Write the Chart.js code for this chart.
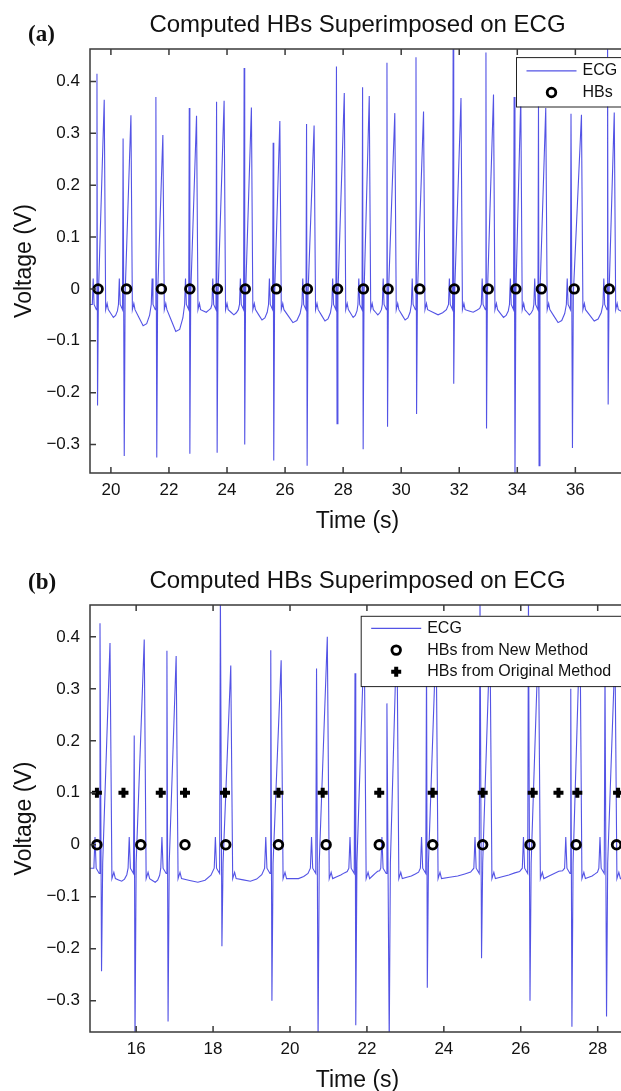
<!DOCTYPE html>
<html lang="en">

<head>
    <meta charset="UTF-8">
    <title>Computed HBs Superimposed on ECG</title>
    <script src="https://cdn.jsdelivr.net/npm/chart.js"></script>
    <style>
        html, body { margin: 0; padding: 0; background: #fff; }
        body { width: 621px; height: 1091px; overflow: hidden; position: relative; }
        .painel { position: absolute; left: 0; }
        .painel canvas { display: block; }
        .letra {
            position: absolute; left: 28px; line-height: 23px;
            font-family: "Liberation Serif", "Times New Roman", serif;
            font-weight: bold; font-size: 23px; color: #111;
        }
    </style>
</head>

<body>
    <div class="painel" style="top: 0px"><canvas id="graficoA" width="640" height="535"></canvas></div>
    <div class="painel" style="top: 556px"><canvas id="graficoB" width="640" height="538"></canvas></div>
    <span class="letra" style="top: 22px">(a)</span>
    <span class="letra" style="top: 570px">(b)</span>
</body>
<script>
    // ---------- painel (a) ----------
    const xMinA = 19.28, xMaxA = 37.71
    const yMinA = -0.355, yMaxA = 0.4625
    // HBs detectados (s)
    const hbA = [19.56, 20.54, 21.74, 22.72, 23.67, 24.63, 25.70, 26.77, 27.81, 28.70, 29.55, 30.64, 31.83, 33.00, 33.95, 34.83, 35.96, 37.17]
    // batimentos do ECG: primeiro pico, vale, segundo pico, vale entre batimentos
    const r1TempoA = [19.52, 20.42, 21.55, 22.70, 23.64, 24.59, 25.59, 26.74, 27.77, 28.67, 29.51, 30.51, 31.79, 32.92, 33.89, 34.73, 35.85, 37.11]
    const r1ValorA = [0.415, 0.29, 0.37, 0.349, 0.361, 0.426, 0.282, 0.318, 0.429, 0.389, 0.436, 0.447, 0.48, 0.456, 0.37, 0.361, 0.338, 0.48]
    const sTempoA = [19.54, 20.46, 21.58, 22.72, 23.66, 24.61, 25.61, 26.76, 27.79, 28.69, 29.53, 30.53, 31.81, 32.94, 33.92, 34.75, 35.90, 37.13]
    const sValorA = [-0.225, -0.322, -0.325, -0.318, -0.316, -0.30, -0.331, -0.341, -0.26, -0.309, -0.266, -0.241, -0.183, -0.269, -0.37, -0.341, -0.307, -0.223]
    const r2TempoA = [19.77, 20.69, 21.79, 22.95, 23.90, 24.84, 25.82, 27.00, 28.04, 28.90, 29.78, 30.77, 32.06, 33.18, 34.12, 34.98, 36.21, 37.34]
    const r2ValorA = [0.365, 0.335, 0.297, 0.334, 0.363, 0.35, 0.324, 0.315, 0.378, 0.372, 0.339, 0.342, 0.368, 0.375, 0.37, 0.349, 0.336, 0.34]
    const valeA = [-0.055, -0.071, -0.082, -0.045, -0.05, -0.06, -0.065, -0.062, -0.055, -0.05, -0.06, -0.05, -0.045, -0.055, -0.05, -0.065, -0.062, -0.05]
    const linhaBaseA = { antes: -0.03, depois: -0.04, ondaP: 0.05 }

    // ---------- painel (b) ----------
    const xMinB = 14.80, xMaxB = 28.71
    const yMinB = -0.36, yMaxB = 0.461
    const hbNovoB = [14.98, 16.12, 17.27, 18.33, 19.70, 20.94, 22.32, 23.71, 25.01, 26.24, 27.44, 28.49]
    const hbOriginalB = [14.98, 15.67, 16.64, 17.27, 18.31, 19.70, 20.85, 22.32, 23.71, 25.01, 26.31, 26.98, 27.47, 28.53]
    const r1TempoB = [15.06, 15.95, 16.80, 18.19, 19.50, 20.69, 21.69, 22.52, 23.55, 24.94, 26.20, 27.30, 28.19]
    const r1ValorB = [0.426, 0.21, 0.373, 0.48, 0.374, 0.339, 0.33, 0.272, 0.36, 0.48, 0.48, 0.30, 0.34]
    const sTempoB = [15.10, 15.97, 16.83, 18.23, 19.53, 20.73, 21.71, 22.58, 23.57, 24.98, 26.24, 27.33, 28.23]
    const sValorB = [-0.243, -0.38, -0.34, -0.195, -0.30, -0.38, -0.347, -0.38, -0.275, -0.218, -0.30, -0.35, -0.33]
    const r2TempoB = [15.32, 16.21, 17.04, 18.46, 19.77, 20.97, 21.93, 22.78, 23.80, 25.20, 26.46, 27.54, 28.45]
    const r2ValorB = [0.388, 0.395, 0.363, 0.345, 0.355, 0.40, 0.40, 0.42, 0.40, 0.40, 0.40, 0.42, 0.37]
    const valeB = [-0.07, -0.072, -0.072, -0.07, -0.065, -0.058, -0.055, -0.06, -0.06, -0.058, -0.055, -0.06, -0.055]
    const linhaBaseB = { antes: -0.045, depois: -0.065, ondaP: 0.06 }

    const nivelHBNovo = 0
    const nivelHBOriginal = 0.1

    const corECG = 'rgba(40, 40, 222, 0.8)'
    const corEixo = '#3a3a3a'
    Chart.defaults.font.family = '"Liberation Sans", Arial, sans-serif'
    Chart.defaults.color = '#111'

    function montarECG(r1t, r1v, st, sv, r2t, r2v, vale, base, xMin, xMax) {
        var pontos = [{ x: xMin - 0.2, y: base.antes }]
        for (var i = 0; i < r1t.length; i++) {
            pontos.push({ x: r1t[i] - 0.16, y: base.antes })
            pontos.push({ x: r1t[i] - 0.13, y: base.antes + base.ondaP })
            pontos.push({ x: r1t[i] - 0.10, y: base.antes })
            pontos.push({ x: r1t[i] - 0.02, y: base.antes - 0.01 })
            pontos.push({ x: r1t[i], y: r1v[i] })
            pontos.push({ x: st[i], y: sv[i] })
            pontos.push({ x: st[i] + 0.03, y: base.depois + 0.03 })
            pontos.push({ x: r2t[i], y: r2v[i] })
            pontos.push({ x: r2t[i] + 0.05, y: base.depois })
            pontos.push({ x: r2t[i] + 0.10, y: base.depois + 0.012 })
            pontos.push({ x: r2t[i] + 0.14, y: base.depois })
            // vale arredondado entre batimentos
            var proximo = i + 1 < r1t.length ? r1t[i + 1] : xMax + 0.6
            var ini = r2t[i] + 0.14, fim = proximo - 0.16
            pontos.push({ x: ini + (fim - ini) * 0.25, y: (base.depois + vale[i]) / 2 })
            pontos.push({ x: ini + (fim - ini) * 0.5, y: vale[i] })
            pontos.push({ x: ini + (fim - ini) * 0.72, y: vale[i] + 0.004 })
            pontos.push({ x: ini + (fim - ini) * 0.9, y: (base.antes + vale[i]) / 2 })
        }
        pontos.push({ x: xMax + 0.6, y: base.antes })
        return pontos
    }

    // moldura estilo matlab com ticks para dentro
    const molduraPlugin = {
        id: 'moldura',
        afterDatasetsDraw(chart) {
            const ctx = chart.ctx, a = chart.chartArea
            const x = chart.scales.x, y = chart.scales.y
            ctx.save()
            ctx.strokeStyle = corEixo
            ctx.lineWidth = 1.5
            ctx.beginPath()
            ctx.rect(a.left, a.top, a.right - a.left, a.bottom - a.top)
            x.ticks.forEach(t => {
                const px = x.getPixelForValue(t.value)
                ctx.moveTo(px, a.bottom); ctx.lineTo(px, a.bottom - 6)
                ctx.moveTo(px, a.top); ctx.lineTo(px, a.top + 6)
            })
            y.ticks.forEach(t => {
                const py = y.getPixelForValue(t.value)
                ctx.moveTo(a.left, py); ctx.lineTo(a.left + 6, py)
            })
            ctx.stroke()
            ctx.restore()
        }
    }

    function desenharMarcador(ctx, tipo, x, y) {
        ctx.save()
        ctx.strokeStyle = '#000'
        if (tipo === 'linha') {
            ctx.strokeStyle = corECG
            ctx.lineWidth = 1.2
            ctx.beginPath(); ctx.moveTo(x - 25, y); ctx.lineTo(x + 25, y); ctx.stroke()
        } else if (tipo === 'circulo') {
            ctx.lineWidth = 2.8
            ctx.beginPath(); ctx.arc(x, y, 4.3, 0, Math.PI * 2); ctx.stroke()
        } else {
            ctx.lineWidth = 4
            ctx.beginPath()
            ctx.moveTo(x - 5, y); ctx.lineTo(x + 5, y)
            ctx.moveTo(x, y - 5); ctx.lineTo(x, y + 5)
            ctx.stroke()
        }
        ctx.restore()
    }

    // legenda dentro da area do grafico, como no matlab
    function legendaPlugin(itens, recuo, topo, altura, passo, primeiraLinha) {
        return {
            id: 'legendaInterna',
            afterDatasetsDraw(chart) {
                const ctx = chart.ctx, a = chart.chartArea
                const esq = a.right - recuo, cima = a.top + topo
                ctx.save()
                ctx.fillStyle = '#fff'
                ctx.fillRect(esq, cima, recuo + 10, altura)
                ctx.strokeStyle = '#222'
                ctx.lineWidth = 1
                ctx.strokeRect(esq + 0.5, cima + 0.5, recuo + 10, altura)
                ctx.font = '16px "Liberation Sans", Arial, sans-serif'
                ctx.fillStyle = '#111'
                ctx.textBaseline = 'middle'
                itens.forEach((item, i) => {
                    const yy = cima + primeiraLinha + i * passo
                    desenharMarcador(ctx, item.tipo, esq + 35.5, yy)
                    ctx.fillText(item.texto, esq + 66.5, yy)
                })
                ctx.restore()
            }
        }
    }

    function formatarTick(v) {
        if (Math.abs(v) < 1e-9) return '0'
        return v.toFixed(1).replace('-', '\u2212')
    }

    function plotarGrafico(idCanvas, datasets, xMin, xMax, yMin, yMax, legenda) {
        const ctx = document.getElementById(idCanvas).getContext('2d')
        return new Chart(ctx, {
            type: 'line',
            data: { datasets: datasets },
            options: {
                responsive: false,
                animation: false,
                devicePixelRatio: 1,
                layout: { padding: { left: 0, right: 15, top: 0, bottom: 0 } },
                plugins: {
                    legend: { display: false },
                    tooltip: { enabled: false },
                    title: {
                        display: true,
                        text: 'Computed HBs Superimposed on ECG',
                        fullSize: false,
                        color: '#111',
                        font: { size: 24, weight: 'normal' },
                        padding: { top: 11, bottom: 9.3 }
                    }
                },
                scales: {
                    x: {
                        type: 'linear',
                        min: xMin,
                        max: xMax,
                        afterFit: s => { s.height = 62 },
                        grid: { display: false, drawTicks: false },
                        border: { display: false },
                        ticks: {
                            stepSize: 2, includeBounds: false, autoSkip: false, maxRotation: 0,
                            padding: 7, font: { size: 17 }, color: '#111'
                        },
                        title: { display: true, text: 'Time (s)', font: { size: 23 }, color: '#111', padding: { top: 0, bottom: 0 } }
                    },
                    y: {
                        min: yMin,
                        max: yMax,
                        afterFit: s => { s.width = 90 },
                        grid: { display: false, drawTicks: false },
                        border: { display: false },
                        ticks: {
                            stepSize: 0.1, includeBounds: false, autoSkip: false,
                            padding: 10, font: { size: 17 }, color: '#111',
                            callback: formatarTick
                        },
                        title: { display: true, text: 'Voltage (V)', font: { size: 23 }, color: '#111', padding: { top: 11, bottom: 0 } }
                    }
                }
            },
            plugins: [molduraPlugin, legenda]
        })
    }

    const estiloECG = { borderColor: corECG, borderWidth: 1.1, pointRadius: 0, tension: 0, fill: false, order: 3 }
    const estiloCirculo = {
        showLine: false, pointStyle: 'circle', pointRadius: 4.3, pointBorderWidth: 2.8,
        pointBorderColor: '#000', pointBackgroundColor: 'rgba(0,0,0,0)', order: 1
    }
    const estiloCruz = {
        showLine: false, pointStyle: 'cross', pointRadius: 5, pointBorderWidth: 4,
        pointBorderColor: '#000', order: 2
    }

    plotarGrafico('graficoA', [
        Object.assign({ label: 'ECG', data: montarECG(r1TempoA, r1ValorA, sTempoA, sValorA, r2TempoA, r2ValorA, valeA, linhaBaseA, xMinA, xMaxA) }, estiloECG),
        Object.assign({ label: 'HBs', data: hbA.map(t => ({ x: t, y: nivelHBNovo })) }, estiloCirculo)
    ], xMinA, xMaxA, yMinA, yMaxA,
        legendaPlugin([{ tipo: 'linha', texto: 'ECG' }, { tipo: 'circulo', texto: 'HBs' }], 109, 8, 49.4, 21.7, 13.7))

    plotarGrafico('graficoB', [
        Object.assign({ label: 'ECG', data: montarECG(r1TempoB, r1ValorB, sTempoB, sValorB, r2TempoB, r2ValorB, valeB, linhaBaseB, xMinB, xMaxB) }, estiloECG),
        Object.assign({ label: 'HBs from New Method', data: hbNovoB.map(t => ({ x: t, y: nivelHBNovo })) }, estiloCirculo),
        Object.assign({ label: 'HBs from Original Method', data: hbOriginalB.map(t => ({ x: t, y: nivelHBOriginal })) }, estiloCruz)
    ], xMinB, xMaxB, yMinB, yMaxB,
        legendaPlugin([{ tipo: 'linha', texto: 'ECG' }, { tipo: 'circulo', texto: 'HBs from New Method' }, { tipo: 'cruz', texto: 'HBs from Original Method' }], 264.3, 10.7, 70.3, 21.7, 12.6))

</script>

</html>
